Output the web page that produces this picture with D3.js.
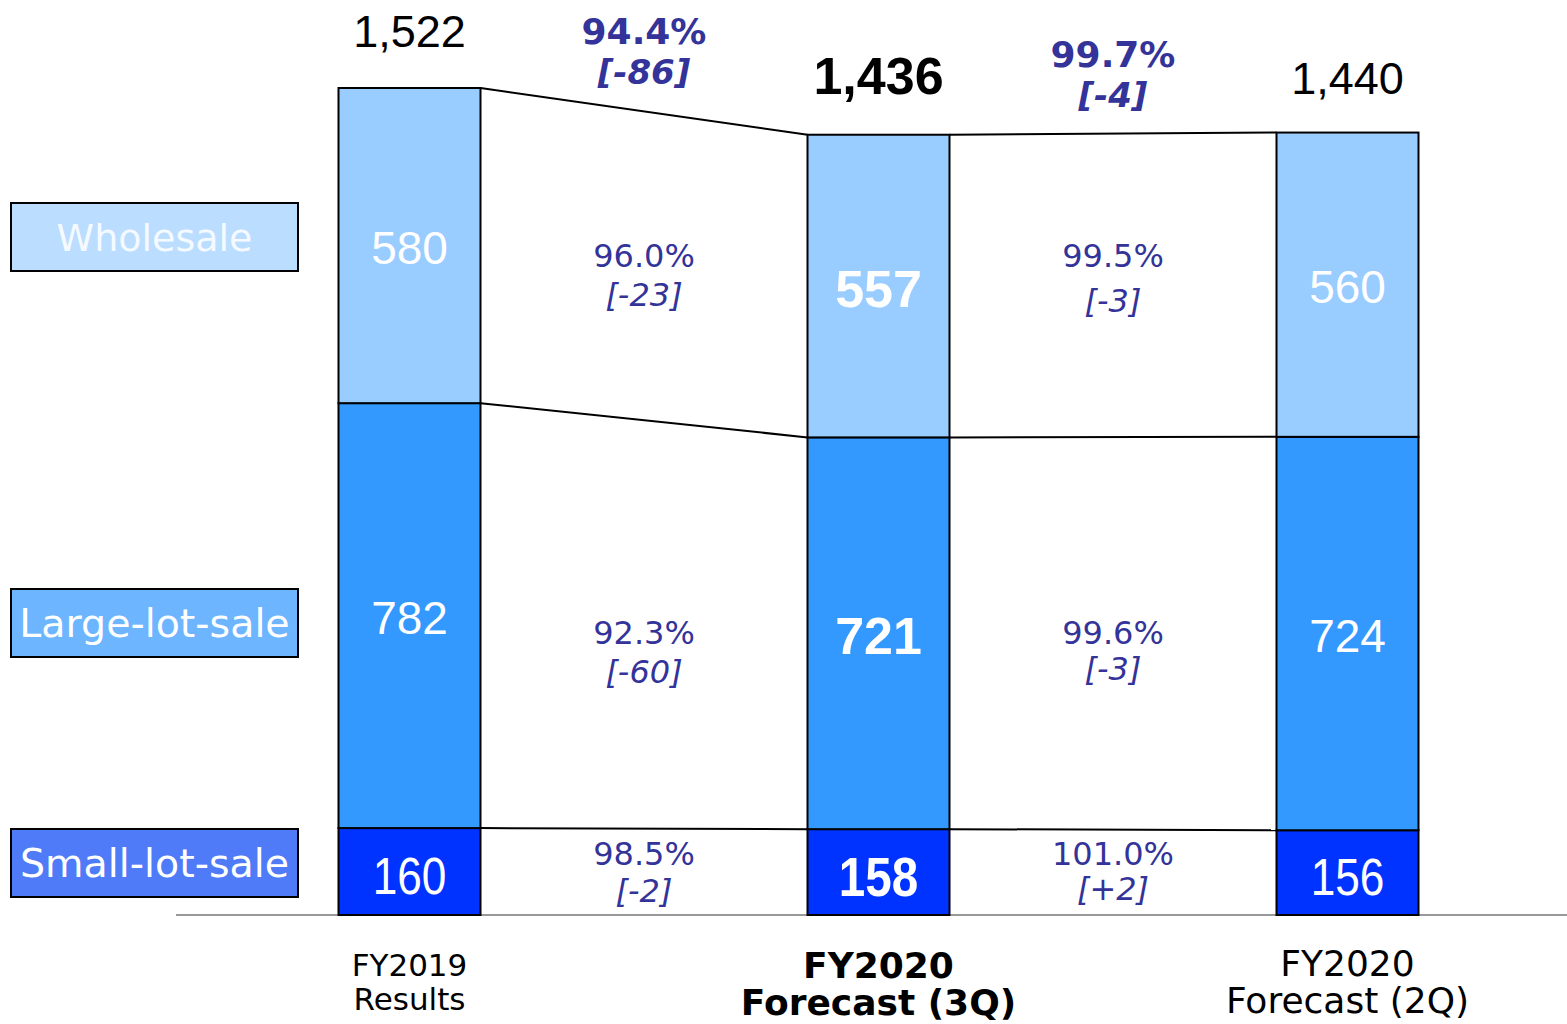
<!DOCTYPE html>
<html>
<head>
<meta charset="utf-8">
<script src="https://cdn.jsdelivr.net/npm/d3@7"></script>
<style>
  body { margin: 0; background: #fff; }
  svg { display: block; }
</style>
</head>
<body>
<div class="board"></div>
<script>
// sales volume by channel, three periods
var periods = ["FY2019 Results", "FY2020 Forecast (3Q)", "FY2020 Forecast (2Q)"];
var periodLines = [["FY2019", "Results"], ["FY2020", "Forecast (3Q)"], ["FY2020", "Forecast (2Q)"]];
var segments = ["Small-lot-sale", "Large-lot-sale", "Wholesale"];   // bottom -> top
var smallLot = [160, 158, 156];
var largeLot = [782, 721, 724];
var wholesale = [580, 557, 560];
var totals = [1522, 1436, 1440];

// changes between neighbouring bars (gap 0: FY2019 -> 3Q, gap 1: 3Q <- 2Q)
var totalPct = ["94.4%", "99.7%"];
var totalDiff = ["[-86]", "[-4]"];
var wholesalePct = ["96.0%", "99.5%"];
var wholesaleDiff = ["[-23]", "[-3]"];
var largePct = ["92.3%", "99.6%"];
var largeDiff = ["[-60]", "[-3]"];
var smallPct = ["98.5%", "101.0%"];
var smallDiff = ["[-2]", "[+2]"];

var colors = { "Wholesale": "#99CCFF", "Large-lot-sale": "#3399FF", "Small-lot-sale": "#0033FF" };
var legendColors = { "Wholesale": "#BBDDFF", "Large-lot-sale": "#6DB5FF", "Small-lot-sale": "#4F7BF9" };

var W = 1567, H = 1024;
var svg = d3.select(".board").append("svg").attr("width", W).attr("height", H);

var y = d3.scaleLinear().domain([0, d3.max(totals)]).range([915, 88]);
var x = d3.scalePoint().domain(periods).range([409.5, 1347.5]);
var barW = 142;

// stack: rows = periods
var rows = periods.map(function(p, i) {
  return { period: p, "Small-lot-sale": smallLot[i], "Large-lot-sale": largeLot[i], "Wholesale": wholesale[i] };
});
var stacked = d3.stack().keys(segments)(rows);

var sans = "'DejaVu Sans', Verdana, sans-serif";
var arial = "'Liberation Sans', Arial, sans-serif";
var pctColor = "#333399";

// baseline
svg.append("line")
   .attr("x1", 176).attr("x2", W)
   .attr("y1", y(0)).attr("y2", y(0))
   .attr("stroke", "#999").attr("stroke-width", 2);

// connector lines between bars
var levels = [
  rows.map(function(r) { return r["Small-lot-sale"]; }),
  rows.map(function(r) { return r["Small-lot-sale"] + r["Large-lot-sale"]; }),
  totals
];
levels.forEach(function(lv) {
  for (var i = 0; i < periods.length - 1; i++) {
    svg.append("line")
       .attr("x1", x(periods[i]) + barW / 2).attr("y1", y(lv[i]))
       .attr("x2", x(periods[i + 1]) - barW / 2).attr("y2", y(lv[i + 1]))
       .attr("stroke", "#000").attr("stroke-width", 2);
  }
});

// bars
var layer = svg.selectAll("g.layer")
               .data(stacked)
               .enter().append("g")
               .attr("class", "layer")
               .attr("fill", function(d) { return colors[d.key]; });

layer.selectAll("rect")
     .data(function(d) { return d; })
     .enter().append("rect")
     .attr("x", function(d) { return x(d.data.period) - barW / 2; })
     .attr("y", function(d) { return y(d[1]); })
     .attr("width", barW)
     .attr("height", function(d) { return y(d[0]) - y(d[1]); })
     .attr("stroke", "#000")
     .attr("stroke-width", 2);

// values inside bars
stacked.forEach(function(s) {
  s.forEach(function(d, i) {
    var cx = x(d.data.period), cy = (y(d[0]) + y(d[1])) / 2;
    var bold = i === 1;
    var small = s.key === "Small-lot-sale";
    var size = small ? (bold ? 56 : 52) : (bold ? 52 : 46);
    svg.append("text")
       .attr("transform", "translate(" + cx + "," + (cy + size * 0.36 + (small ? 4 : 2)) + ")" + (small ? " scale(0.85,1)" : ""))
       .attr("text-anchor", "middle")
       .attr("font-family", arial)
       .attr("font-size", size)
       .attr("font-weight", bold ? "bold" : "normal")
       .attr("fill", "#fff")
       .text(d.data[s.key]);
  });
});

// totals above bars
svg.selectAll("text.total")
   .data(totals)
   .enter().append("text")
   .attr("class", "total")
   .attr("x", function(d, i) { return x(periods[i]); })
   .attr("y", function(d, i) { return y(d) - (i === 2 ? 39 : 41); })
   .attr("text-anchor", "middle")
   .attr("font-family", arial)
   .attr("font-size", function(d, i) { return i === 1 ? 52 : 45; })
   .attr("font-weight", function(d, i) { return i === 1 ? "bold" : "normal"; })
   .attr("fill", "#000")
   .text(d3.format(","));

// total change labels
totalPct.forEach(function(p, i) {
  var gx = (x(periods[i]) + x(periods[i + 1])) / 2;
  var avgTop = (y(totals[i]) + y(totals[i + 1])) / 2;
  svg.append("text")
     .attr("x", gx).attr("y", avgTop - 67)
     .attr("text-anchor", "middle")
     .attr("font-family", sans).attr("font-size", 36).attr("font-weight", "bold")
     .attr("fill", pctColor).text(p);
  svg.append("text")
     .attr("x", gx).attr("y", avgTop - 27)
     .attr("text-anchor", "middle")
     .attr("font-family", sans).attr("font-size", 34).attr("font-weight", "bold")
     .attr("font-style", "italic")
     .attr("fill", pctColor).text(totalDiff[i]);
});

// segment change labels, placed against the middle bar's segment
var segLabels = [
  { key: "Wholesale", pct: wholesalePct, diff: wholesaleDiff, shift: -30, gap: [39, 45] },
  { key: "Large-lot-sale", pct: largePct, diff: largeDiff, shift: 0, gap: [39, 36] },
  { key: "Small-lot-sale", pct: smallPct, diff: smallDiff, shift: -18, gap: [37, 35] }
];
segLabels.forEach(function(sl) {
  var s = stacked.filter(function(k) { return k.key === sl.key; })[0];
  var mid = s[1];
  var cy = (y(mid[0]) + y(mid[1])) / 2 + sl.shift;
  for (var i = 0; i < periods.length - 1; i++) {
    var gx = (x(periods[i]) + x(periods[i + 1])) / 2;
    svg.append("text")
       .attr("x", gx).attr("y", cy + 11)
       .attr("text-anchor", "middle")
       .attr("font-family", sans).attr("font-size", 32)
       .attr("fill", pctColor).text(sl.pct[i]);
    svg.append("text")
       .attr("x", gx).attr("y", cy + 11 + sl.gap[i])
       .attr("text-anchor", "middle")
       .attr("font-family", sans).attr("font-size", 32)
       .attr("font-style", "italic")
       .attr("fill", pctColor).text(sl.diff[i]);
  }
});

// period labels under axis
periodLines.forEach(function(lines, i) {
  var bold = i === 1;
  var t = svg.append("text")
     .attr("x", x(periods[i]))
     .attr("y", bold ? 978 : 976)
     .attr("text-anchor", "middle")
     .attr("font-family", sans)
     .attr("font-size", i === 0 ? 31 : 36)
     .attr("font-weight", bold ? "bold" : "normal")
     .attr("fill", "#000");
  lines.forEach(function(l, j) {
    t.append("tspan")
     .attr("x", x(periods[i]))
     .attr("dy", j === 0 ? 0 : (i === 0 ? 34 : 37))
     .text(l);
  });
});

// legend boxes
var legendY = { "Wholesale": 203, "Large-lot-sale": 589, "Small-lot-sale": 829 };
segments.forEach(function(k) {
  var g = svg.append("g").attr("transform", "translate(11," + legendY[k] + ")");
  g.append("rect")
   .attr("width", 287).attr("height", 68)
   .attr("fill", legendColors[k])
   .attr("stroke", "#000").attr("stroke-width", 2);
  g.append("text")
   .attr("x", 143.5).attr("y", 48)
   .attr("text-anchor", "middle")
   .attr("font-family", sans).attr("font-size", k === "Wholesale" ? 38 : 39.5)
   .attr("fill", k === "Wholesale" ? "#F4FAFF" : "#fff")
   .text(k);
});
</script>
</body>
</html>
